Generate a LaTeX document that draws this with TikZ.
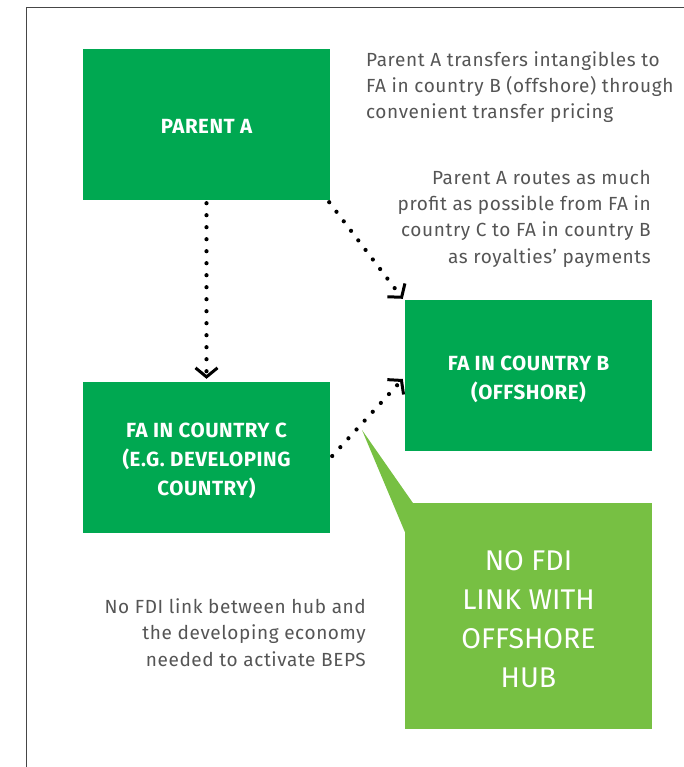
\documentclass[tikz,border=0pt]{standalone}
\usepackage{fontspec}
\setmainfont{Fira Sans}
\newfontfamily\notefont[LetterSpace=3.2]{Fira Sans}
\newfontfamily\boxfont[LetterSpace=2.6]{Fira Sans}
\usetikzlibrary{arrows.meta}
\definecolor{dgreen}{RGB}{0,168,81}
\definecolor{lgreen}{RGB}{119,192,67}
\definecolor{txtgray}{RGB}{85,85,85}
\definecolor{framegray}{RGB}{70,70,70}
\tikzset{
  box/.style={fill=dgreen, minimum width=247pt, minimum height=151pt, inner sep=0pt},
  boxtxt/.style={inner sep=0pt, text=white, align=center,
    font=\boxfont\bfseries\fontsize{20.5}{29}\selectfont},
  note/.style={text=txtgray, inner sep=0pt, font=\notefont\fontsize{19}{26.3}\selectfont},
  dotarrow/.style={line width=4.2pt, line cap=round, dash pattern=on 0pt off 12pt,
    -{Straight Barb[length=9pt,width=22pt,line width=3pt]}}
}
\begin{document}
\begin{tikzpicture}[x=1pt,y=-1pt]
\useasboundingbox (0,0) rectangle (684,767);
% frame
\draw[framegray, line width=1.6pt] (26.5,767) -- (26.5,7.5) -- (684,7.5);
% boxes
\node[box] (parent) at (206.5,124.5) {};
\node[box] (fab) at (528.5,375.5) {};
\node[box] (fac) at (206.5,457.5) {};
\node[boxtxt] (parenttxt) at ([yshift=-2pt]parent.center) {PARENT A};
\node[boxtxt] (fabtxt) at ([yshift=-4pt]fab.center) {FA IN COUNTRY B\\(OFFSHORE)};
\node[boxtxt] (factxt) at ([yshift=-3.5pt]fac.center) {FA IN COUNTRY C\\(E.G. DEVELOPING\\COUNTRY)};
% callout
\node[fill=lgreen, minimum width=247pt, minimum height=226pt, inner sep=0pt] (call) at (528.5,616) {};
\coordinate (tip) at (362,430);
\fill[lgreen] (tip) -- ([xshift=8pt]call.north west) -- ([yshift=-29pt]call.north west) -- cycle;
\node[text=white, align=center, font=\fontsize{28.5}{39}\selectfont] (calltxt) at ([yshift=-3pt]call.center) {NO FDI\\LINK WITH\\OFFSHORE\\HUB};
% notes
\node[note, anchor=west, align=left] (n1) at (366,87) {Parent A transfers intangibles to\\FA in country B (offshore) through\\convenient transfer pricing};
\node[note, anchor=east, align=right] (n2) at (651,218.5) {Parent A routes as much\\profit as possible from FA in\\country C to FA in country B\\as royalties’ payments};
\node[note, anchor=east, align=right] (n3) at (366,632.5) {No FDI link between hub and\\the developing economy\\needed to activate BEPS};
% arrows
\draw[dotarrow] ([yshift=-3pt]parent.south) -- ([yshift=3pt]fac.north);
\draw[dotarrow] ([shift={(-1pt,-2pt)}]parent.south east) -- ([shift={(-2pt,1pt)}]fab.north west);
\draw[dotarrow] ([shift={(2pt,1.5pt)}]fac.east) -- ([shift={(-2pt,-3.5pt)}]fab.west);
\end{tikzpicture}
\end{document}
